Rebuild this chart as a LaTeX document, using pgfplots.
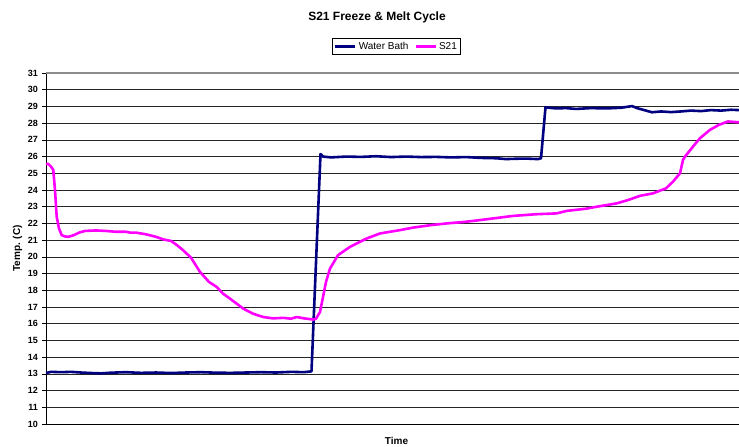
\documentclass[border=0pt]{standalone}
\usepackage{fontspec}
\setmainfont{Liberation Sans}
\usepackage{pgfplots}
\pgfplotsset{compat=1.18}
\definecolor{navy}{HTML}{000080}
\definecolor{mag}{HTML}{FF00FF}
\begin{document}
\begin{tikzpicture}
\begin{axis}[
  name=ax,
  scale only axis, width=693bp, height=351bp,
  xmin=0, xmax=693, ymin=10, ymax=31,
  axis x line*=bottom, axis y line*=left,
  axis line style={black, line width=0.8bp},
  xtick=\empty,
  ytick={10,...,30},
  extra y ticks={31},
  extra y tick style={grid style={black!45, line width=1.6bp}},
  ymajorgrids,
  grid style={black!85, line width=0.7bp},
  tick align=outside, major tick length=4bp,
  tick style={black, line width=0.7bp},
  /pgf/number format/assume math mode=true,
  yticklabel style={font=\fontsize{9bp}{10bp}\selectfont\bfseries, inner sep=0pt, anchor=east, xshift=-4bp},
  ylabel={Temp. (C)},
  every axis y label/.style={at={(axis description cs:0,0.5)}, xshift=-28.5bp, rotate=90, anchor=center, font=\fontsize{10bp}{11bp}\selectfont\bfseries},
  xlabel={Time},
  every axis x label/.style={at={(axis description cs:0.5,0)}, yshift=-17bp, xshift=4bp, anchor=center, font=\fontsize{10bp}{11bp}\selectfont\bfseries},
  title={S21 Freeze \& Melt Cycle},
  every axis title/.style={at={(axis description cs:0.5,1)}, yshift=56bp, xshift=-15.5bp, anchor=center, font=\fontsize{12bp}{13bp}\selectfont\bfseries},
  legend columns=2,
  legend style={at={(axis description cs:0.5,1)}, anchor=center, yshift=26.7bp, xshift=4bp, draw=black, line width=0.6bp, font=\fontsize{10bp}{11bp}\selectfont, inner sep=1.5bp, /tikz/every even column/.append style={column sep=4bp}},
  legend image code/.code={\draw[#1] (0bp,0bp) -- (20bp,0bp);},
]
\addplot[navy, line width=2.6bp, line join=round] coordinates {
(0,13.05) (5,13.12) (15,13.1) (25,13.12) (35,13.08) (45,13.05) (55,13.03) (65,13.07) (80,13.1) (95,13.06) (110,13.08) (125,13.05) (140,13.08) (155,13.1) (170,13.07) (185,13.06) (200,13.08) (215,13.1) (230,13.08) (245,13.12) (258,13.1) (265.5,13.15)
(274.5,26.15) (277,26.0) (285,25.95) (300,26.0) (315,25.98) (330,26.02) (345,25.97) (360,26.0) (375,25.97) (390,25.98) (405,25.95) (420,25.97) (435,25.92) (450,25.9) (460,25.85) (470,25.87) (480,25.88) (492,25.85) (495,25.9)
(499.5,28.95) (503,28.92) (510,28.88) (520,28.9) (530,28.85) (545,28.9) (560,28.88) (575,28.92) (586,29.02) (591,28.9) (597,28.8) (606,28.65) (615,28.7) (625,28.66) (635,28.7) (645,28.75) (655,28.72) (665,28.78) (675,28.75) (685,28.8) (693,28.78)
};
\addlegendentry{Water Bath}
\addplot[mag, line width=2.6bp, line join=round] coordinates {
(0,25.55) (2.3,25.56) (5,25.4) (7.3,25.2) (9,24.0) (10.7,22.4) (13,21.7) (15.7,21.3) (19,21.22) (22.3,21.2) (28,21.3) (33,21.45) (39,21.55) (50,21.58) (60,21.55) (70,21.5) (80,21.5) (84,21.45) (90,21.45) (100,21.35) (110,21.2) (117,21.05) (125,20.95) (131,20.7) (137,20.4) (145,19.95) (154,19.1) (163,18.5) (170.7,18.2) (177,17.8) (184,17.5) (197.3,16.9) (207,16.6) (217.3,16.4) (227,16.32) (237.3,16.35) (245,16.3) (250.7,16.4) (258,16.32) (267.3,16.25)
(270,16.3) (274,16.7) (277,17.6) (280,18.5) (284,19.3) (292,20.1) (304,20.6) (320.7,21.1) (334,21.4) (354,21.6) (367,21.75) (385,21.9) (400.7,22.0) (420,22.1) (434,22.2) (450,22.32) (467,22.45) (490,22.55) (510.7,22.6) (520.7,22.75) (540,22.88) (550.7,23.0) (570.7,23.2) (582,23.4) (594,23.65) (607,23.8) (620,24.1) (627,24.5) (634,25.0) (637,25.8) (639,26.0) (647,26.6) (654,27.1) (664,27.6) (673,27.9) (682,28.1) (693,28.05)
};
\addlegendentry{S21}
\end{axis}
\pgfresetboundingbox
\path[use as bounding box] ([shift={(-46bp,-23bp)}]ax.south west) rectangle ([shift={(0bp,73bp)}]ax.north east);
\end{tikzpicture}
\end{document}
